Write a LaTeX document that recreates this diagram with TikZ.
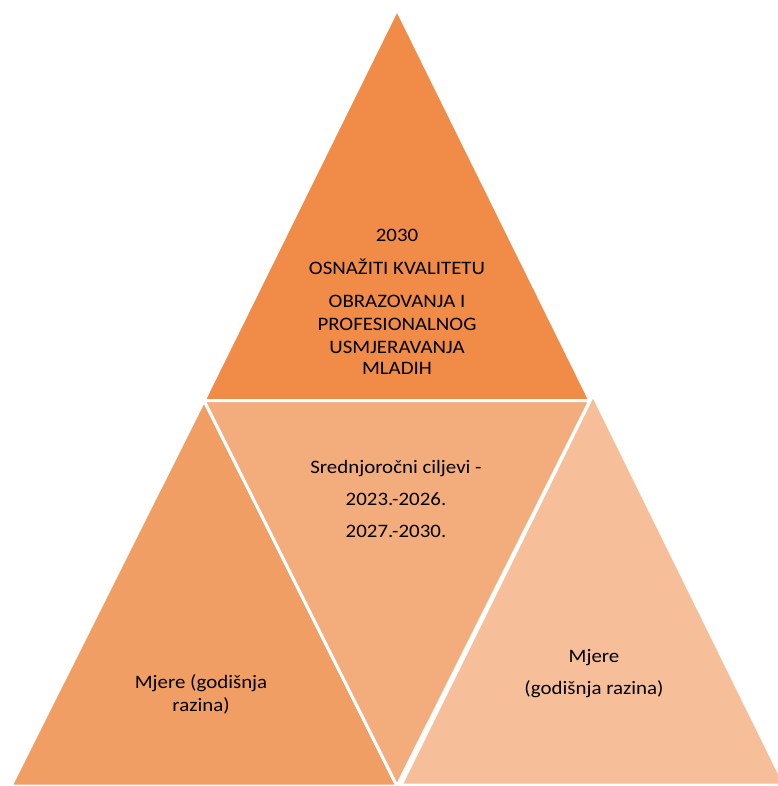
\documentclass[tikz,border=0pt]{standalone}
\usepackage{fontspec}
\setmainfont{Carlito}[FakeStretch=1.1]
\definecolor{toporange}{RGB}{240,139,72}
\definecolor{leftorange}{RGB}{241,158,101}
\definecolor{midorange}{RGB}{243,173,125}
\definecolor{rightorange}{RGB}{246,191,153}

\begin{document}
\begin{tikzpicture}[x=1pt,y=-1pt,
        tri/.style={draw=white,line width=3pt,line join=miter},
        txt/.style={font=\fontsize{19}{23}\selectfont,inner sep=0pt,anchor=base}]
        \useasboundingbox (0,0) rectangle (777,786);

        % Corners
        \coordinate (apex) at (397,9.5);
        \coordinate (baseL) at (204,400.5);
        \coordinate (baseR) at (590,400.5);
        \coordinate (botL) at (11,786);
        \coordinate (botM) at (397,786);
        \coordinate (rapex) at (593,395);
        \coordinate (rbotL) at (401,785);
        \coordinate (rbotR) at (785,785);

        % Triangles
        \filldraw[tri,fill=toporange] (apex) -- (baseL) -- (baseR) -- cycle;
        \filldraw[tri,fill=leftorange] (baseL) -- (botL) -- (botM) -- cycle;
        \filldraw[tri,fill=midorange] (baseL) -- (baseR) -- (botM) -- cycle;
        \filldraw[tri,fill=rightorange] (rapex) -- (rbotL) -- (rbotR) -- cycle;

        % Top
        \node[txt] (year) at (397,241) {2030};
        \node[txt] (goal) at (397,274) {OSNAŽITI KVALITETU};
        \foreach \line/\y [count=\i] in {OBRAZOVANJA I/307,PROFESIONALNOG/330,USMJERAVANJA/353,MLADIH/374.5}
            \node[txt] (goal\i) at (397,\y) {\line};

        % Middle
        \node[txt] (mid1) at (396,473) {Srednjoročni ciljevi -};
        \node[txt] (mid2) at (396,505) {2023.-2026.};
        \node[txt] (mid3) at (396,537) {2027.-2030.};

        % Bottom left and right
        \node[txt] (left1) at (201,688) {Mjere (godišnja};
        \node[txt] (left2) at (201,711) {razina)};
        \node[txt] (right1) at (594,662) {Mjere};
        \node[txt] (right2) at (594,694) {(godišnja razina)};
    \end{tikzpicture}
\end{document}
